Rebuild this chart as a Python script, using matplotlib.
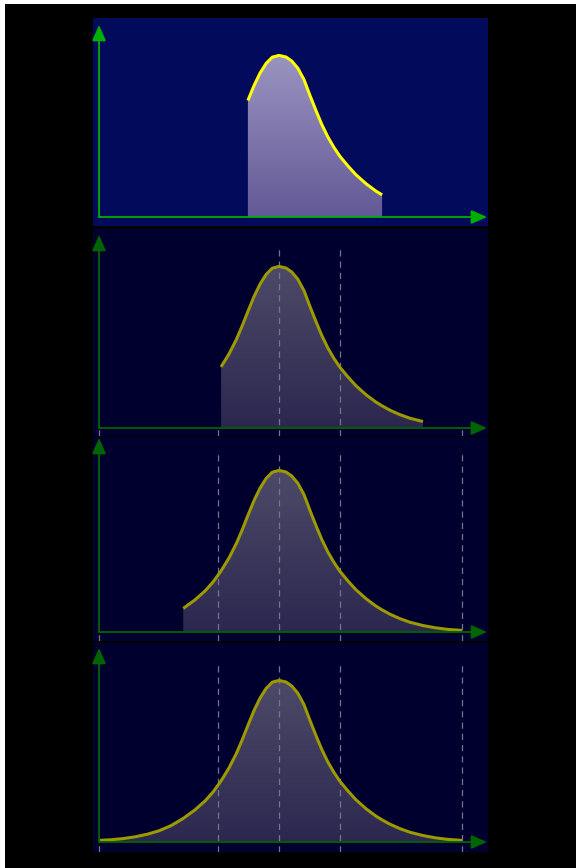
import matplotlib
matplotlib.use("Agg")
import matplotlib.pyplot as plt
import numpy as np
from matplotlib.patches import Polygon, Rectangle
from matplotlib.colors import LinearSegmentedColormap

# curve shape: x in sigma units, height relative to peak
curve_x = [-2.95, -2.75, -2.56, -2.36, -2.16, -1.97, -1.77, -1.57, -1.38, -1.21,
           -1.08, -0.95, -0.82, -0.70, -0.61, -0.51, -0.41, -0.31, -0.21, -0.11,
           0.00, 0.115, 0.21, 0.31, 0.41, 0.51, 0.61, 0.70, 0.80, 0.90,
           1.00, 1.13, 1.26, 1.43, 1.59, 1.69, 1.82, 1.98, 2.15, 2.36,
           2.56, 2.77, 3.00]
curve_y = [0.010, 0.014, 0.021, 0.032, 0.048, 0.069, 0.101, 0.146, 0.198, 0.255,
           0.310, 0.378, 0.458, 0.547, 0.626, 0.721, 0.813, 0.891, 0.951, 0.989,
           1.000, 0.990, 0.965, 0.920, 0.850, 0.750, 0.655, 0.574, 0.496, 0.431,
           0.375, 0.316, 0.262, 0.205, 0.160, 0.137, 0.110, 0.083, 0.060, 0.040,
           0.026, 0.016, 0.010]

# truncation range of each panel (sigma units)
trunc_lo = [-0.51, -0.95, -1.57, -2.95]
trunc_hi = [1.69, 2.36, 3.00, 3.00]

# dashed guide lines (full height) and short ticks below the baseline
guide_full = [[], [0, 1], [-1, 0, 1, 3], [-1, 0, 1, 3]]
guide_tick = [[], [-2.95, -1, 3], [-2.95], [-2.95]]

# layout in pixels
W, H = 576, 868
bg_top = [18, 229, 437, 643]
bg_bot = [226, 436, 641, 852]
base_y = [217, 428, 632, 842]
tip_y = [25, 235, 438, 648]
x_left, x_right = 93, 488
cx, sig = 279, 61.0
peak_px = 161.6
x_axis = -2.95
x_tip = (487 - cx) / sig

fig = plt.figure(figsize=(W / 100, H / 100), dpi=100, facecolor="black")
# thin white border at top and left
fig.patches.append(Rectangle((0, 1 - 4 / H), 1, 4 / H, transform=fig.transFigure,
                             facecolor="white", edgecolor="none"))
fig.patches.append(Rectangle((0, 0), 5 / W, 1, transform=fig.transFigure,
                             facecolor="white", edgecolor="none"))

for i in range(4):
    hot = i == 0
    bg = "#020a5c" if hot else "#00002e"
    line_c = "#ffff00" if hot else "#9c9a00"
    green = "#00b000" if hot else "#006400"
    top_c, bot_c = ("#9a94c0", "#635996") if hot else ("#4d4a68", "#2c274f")

    t, b = bg_top[i], bg_bot[i]
    ax = fig.add_axes([x_left / W, 1 - b / H, (x_right - x_left) / W, (b - t) / H])
    ax.set_facecolor(bg)
    for s in ax.spines.values():
        s.set_visible(False)
    ax.set_xticks([])
    ax.set_yticks([])
    x0 = (x_left - cx) / sig
    x1 = (x_right - cx) / sig
    y0 = -(b - base_y[i]) / peak_px
    y1 = (base_y[i] - t) / peak_px

    lo, hi = trunc_lo[i], trunc_hi[i]
    xs = [x for x in curve_x if lo <= x <= hi]
    ys = [y for x, y in zip(curve_x, curve_y) if lo <= x <= hi]

    # gradient fill clipped to the area under the curve
    verts = [(xs[0], 0)] + list(zip(xs, ys)) + [(xs[-1], 0)]
    poly = Polygon(verts, closed=True, facecolor="none", edgecolor="none")
    ax.add_patch(poly)
    cmap = LinearSegmentedColormap.from_list("g", [bot_c, top_c])
    grad = np.linspace(0, 1, 256).reshape(-1, 1)
    im = ax.imshow(grad, extent=[x0, x1, 0, 1.0], origin="lower", aspect="auto",
                   cmap=cmap, zorder=1, interpolation="bilinear")
    im.set_clip_path(poly)

    dash_c = "#74748e"
    for g in guide_full[i]:
        ax.plot([g, g], [y0, 1.11], color=dash_c, lw=0.9, ls=(0, (5, 4)), zorder=2)
    for g in guide_tick[i]:
        ax.plot([g, g], [y0, 0], color=dash_c, lw=0.9, ls=(0, (5, 4)), zorder=2)

    ax.plot(xs, ys, color=line_c, lw=2.2, zorder=3, solid_capstyle="butt",
            solid_joinstyle="round")

    # axes with arrow heads
    arw = dict(arrowstyle="-|>,head_length=0.95,head_width=0.42", color=green,
               lw=1.3, shrinkA=0, shrinkB=0, mutation_scale=10)
    ax.annotate("", xy=(x_tip, 0), xytext=(x_axis, 0), arrowprops=arw,
                annotation_clip=False, zorder=4)
    ytip = (base_y[i] - tip_y[i]) / peak_px
    ax.annotate("", xy=(x_axis, ytip), xytext=(x_axis, 0), arrowprops=arw,
                annotation_clip=False, zorder=4)

    ax.set_xlim(x0, x1)
    ax.set_ylim(y0, y1)

fig.savefig("out.png", dpi=100, facecolor="black")
